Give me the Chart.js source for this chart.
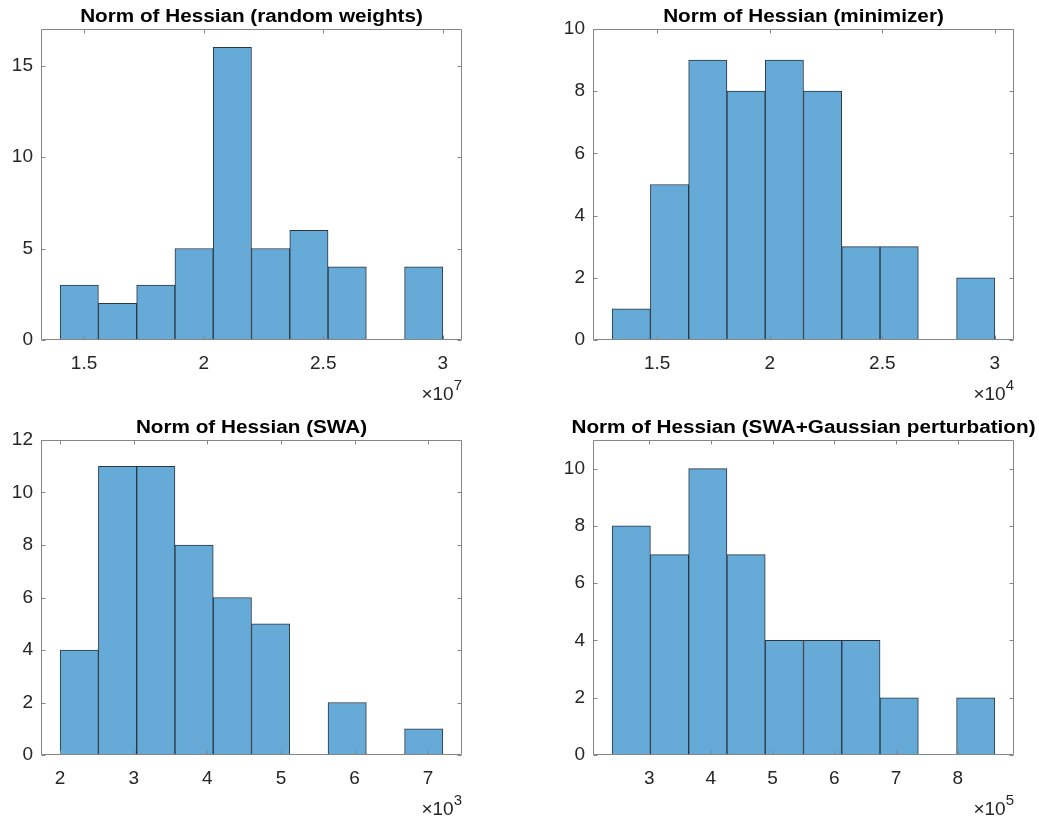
<!DOCTYPE html>
<html>
<head>
<meta charset="utf-8">
<script src="https://cdn.jsdelivr.net/npm/chart.js@4.4.0/dist/chart.umd.min.js"></script>
<style>
  html, body { margin: 0; padding: 0; background: #fff; overflow: hidden; }
  .panel { position: absolute; }
</style>
</head>
<body>
<div class="panel" style="left:0;top:0"><canvas id="c1" width="520" height="405"></canvas></div>
<div class="panel" style="left:519px;top:0"><canvas id="c2" width="520" height="405"></canvas></div>
<div class="panel" style="left:0;top:405px"><canvas id="c3" width="520" height="413"></canvas></div>
<div class="panel" style="left:519px;top:405px"><canvas id="c4" width="520" height="413"></canvas></div>
<script>
// random weights (x in units of 1e7)
const rwEdges = [1.4, 1.56, 1.72, 1.88, 2.04, 2.2, 2.36, 2.52, 2.68, 2.84, 3.0];
const rwCounts = [3, 2, 3, 5, 16, 5, 6, 4, 0, 4];
const rwXTicks = [1.5, 2, 2.5, 3];
const rwYTicks = [0, 5, 10, 15];
const rwXRange = [1.32, 3.08];

// minimizer (x in units of 1e4)
const minEdges = [1.3, 1.47, 1.64, 1.81, 1.98, 2.15, 2.32, 2.49, 2.66, 2.83, 3.0];
const minCounts = [1, 5, 9, 8, 9, 8, 3, 3, 0, 2];
const minXTicks = [1.5, 2, 2.5, 3];
const minYTicks = [0, 2, 4, 6, 8, 10];
const minXRange = [1.215, 3.085];

// SWA (x in units of 1e3)
const swaEdges = [2.0, 2.52, 3.04, 3.56, 4.08, 4.6, 5.12, 5.64, 6.16, 6.68, 7.2];
const swaCounts = [4, 11, 11, 8, 6, 5, 0, 2, 0, 1];
const swaXTicks = [2, 3, 4, 5, 6, 7];
const swaYTicks = [0, 2, 4, 6, 8, 10, 12];
const swaXRange = [1.74, 7.46];

// SWA + Gaussian perturbation (x in units of 1e5)
const gaussEdges = [2.4, 3.02, 3.64, 4.26, 4.88, 5.5, 6.12, 6.74, 7.36, 7.98, 8.6];
const gaussCounts = [8, 7, 10, 7, 4, 4, 4, 2, 0, 2];
const gaussXTicks = [3, 4, 5, 6, 7, 8];
const gaussYTicks = [0, 2, 4, 6, 8, 10];
const gaussXRange = [2.09, 8.91];

const FONT = '"Liberation Sans", Arial, Helvetica, sans-serif';
const AXIS_GRAY = '#858585';

// box, inward ticks on all sides, title and the x10^n label, matlab style
const matlabFrame = {
  id: 'matlabFrame',
  afterDatasetsDraw(chart, args, opts) {
    const { ctx, chartArea: a, scales: { x, y } } = chart;
    const L = Math.round(a.left) + 0.5, R = Math.round(a.right) - 0.5;
    const T = Math.round(a.top) + 0.5, B = Math.round(a.bottom) - 0.5;
    ctx.save();
    ctx.strokeStyle = AXIS_GRAY;
    ctx.lineWidth = 1;
    ctx.beginPath();
    ctx.rect(L, T, R - L, B - T);
    x.ticks.forEach(t => {
      const px = Math.round(x.getPixelForValue(t.value)) + 0.5;
      ctx.moveTo(px, B); ctx.lineTo(px, B - 4);
      ctx.moveTo(px, T); ctx.lineTo(px, T + 4);
    });
    y.ticks.forEach(t => {
      const py = Math.round(y.getPixelForValue(t.value)) + 0.5;
      ctx.moveTo(L, py); ctx.lineTo(L + 4, py);
      ctx.moveTo(R, py); ctx.lineTo(R - 4, py);
    });
    ctx.stroke();

    // title (matlab's helvetica bold runs wider than liberation, so stretch a bit)
    ctx.save();
    ctx.fillStyle = '#000';
    ctx.font = 'bold 18px ' + FONT;
    ctx.textAlign = 'center';
    ctx.textBaseline = 'alphabetic';
    ctx.translate((a.left + a.right) / 2, a.top - 7);
    ctx.scale(1.15, 1);
    ctx.fillText(opts.title, 0, 0);
    ctx.restore();

    // exponent label
    ctx.fillStyle = '#262626';
    ctx.textAlign = 'right';
    ctx.textBaseline = 'alphabetic';
    ctx.font = '15px ' + FONT;
    const sup = String(opts.exp);
    const supW = ctx.measureText(sup).width;
    ctx.fillText(sup, a.right, a.bottom + 50);
    ctx.font = '19px ' + FONT;
    ctx.fillText('\u00d710', a.right - supW, a.bottom + 60);
    ctx.restore();
  }
};

function makeHist(id, edges, counts, xTicks, yTicks, xRange, yMax, exp, title, pad) {
  const points = counts.map((c, i) => ({ x: (edges[i] + edges[i + 1]) / 2, y: c }));
  return new Chart(document.getElementById(id), {
    type: 'bar',
    data: {
      datasets: [{
        data: points,
        backgroundColor: 'rgb(102,170,215)',
        borderColor: '#2b3642',
        borderWidth: ctx => (ctx.raw && ctx.raw.y > 0 ? 1 : 0),
        borderSkipped: false,
        barPercentage: 1,
        categoryPercentage: 1
      }]
    },
    options: {
      responsive: false,
      animation: false,
      devicePixelRatio: 1,
      layout: { padding: pad },
      plugins: {
        legend: { display: false },
        tooltip: { enabled: false },
        matlabFrame: { title: title, exp: exp }
      },
      scales: {
        x: {
          type: 'linear',
          offset: false,
          min: xRange[0],
          max: xRange[1],
          grid: { display: false, drawTicks: false },
          border: { display: false },
          afterBuildTicks: s => { s.ticks = xTicks.map(v => ({ value: v })); },
          afterFit: s => { s.height = 40; },
          ticks: {
            autoSkip: false,
            maxRotation: 0,
            padding: 12,
            color: '#262626',
            font: { family: FONT, size: 19 },
            callback: v => String(v)
          }
        },
        y: {
          min: 0,
          max: yMax,
          grid: { display: false, drawTicks: false },
          border: { display: false },
          afterBuildTicks: s => { s.ticks = yTicks.map(v => ({ value: v })); },
          afterFit: s => { s.width = 41; },
          ticks: {
            autoSkip: false,
            padding: 8,
            color: '#262626',
            font: { family: FONT, size: 19 },
            callback: v => String(v)
          }
        }
      }
    },
    plugins: [matlabFrame]
  });
}

makeHist('c1', rwEdges, rwCounts, rwXTicks, rwYTicks, rwXRange, 17, 7,
  'Norm of Hessian (random weights)', { left: 0, right: 58, top: 29, bottom: 25 });
makeHist('c2', minEdges, minCounts, minXTicks, minYTicks, minXRange, 10, 4,
  'Norm of Hessian (minimizer)', { left: 33, right: 25, top: 29, bottom: 25 });
makeHist('c3', swaEdges, swaCounts, swaXTicks, swaYTicks, swaXRange, 12, 3,
  'Norm of Hessian (SWA)', { left: 0, right: 58, top: 35, bottom: 23 });
makeHist('c4', gaussEdges, gaussCounts, gaussXTicks, gaussYTicks, gaussXRange, 11, 5,
  'Norm of Hessian (SWA+Gaussian perturbation)', { left: 33, right: 25, top: 35, bottom: 23 });
</script>
</body>
</html>
